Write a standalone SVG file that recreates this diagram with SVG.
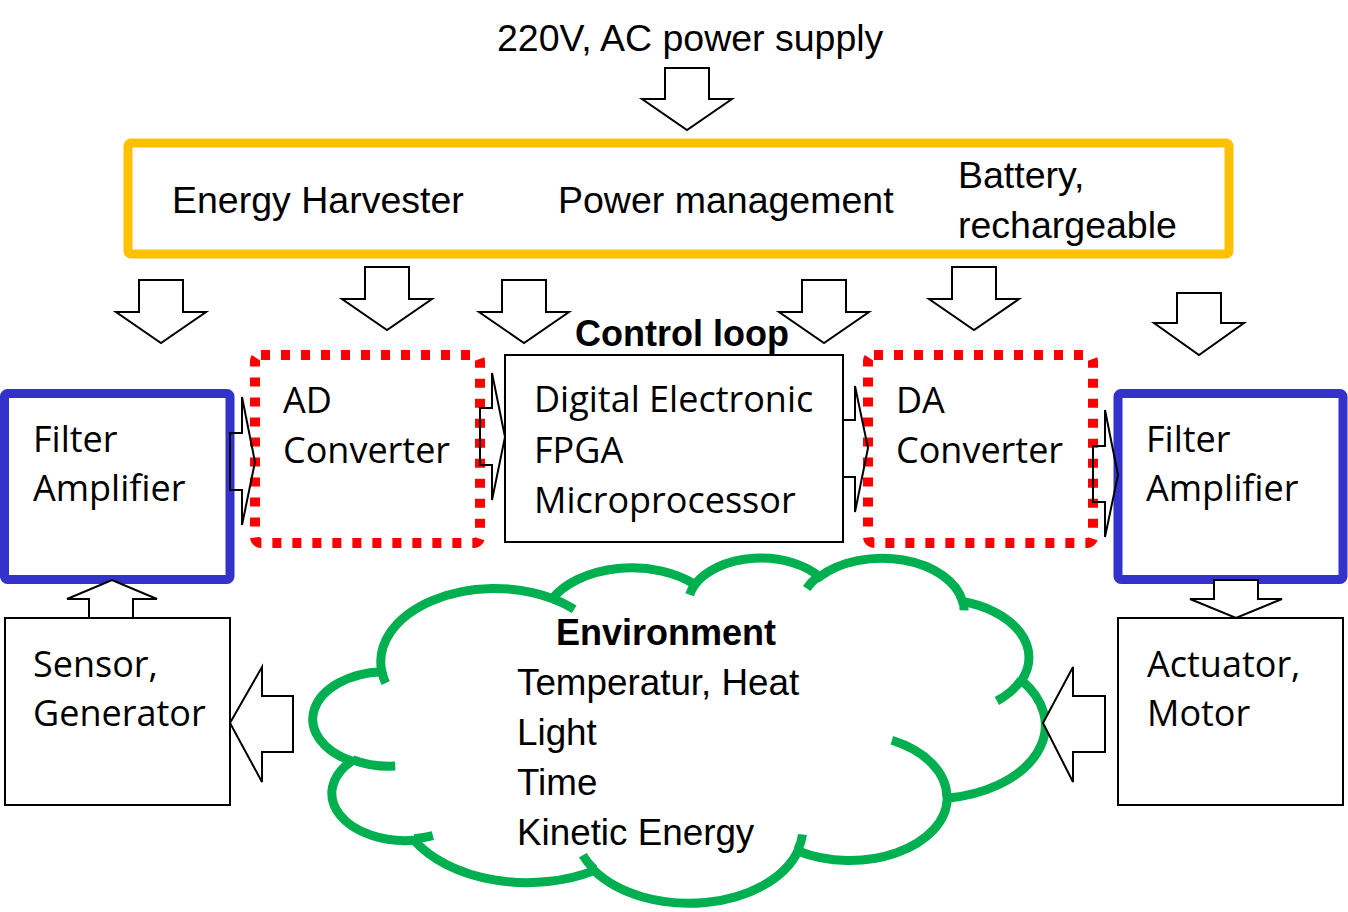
<svg xmlns="http://www.w3.org/2000/svg" width="1348" height="912" viewBox="0 0 1348 912">
<style>
.lbl{font-family:"Open Sans","Noto Sans","DejaVu Sans",sans-serif;font-size:36px;fill:#000}
.cal{font-family:"Liberation Sans",Arial,sans-serif;font-size:37.5px;fill:#000}
.env{font-family:"Liberation Sans",Arial,sans-serif;font-size:36.8px;fill:#000}
.calb{font-family:"Liberation Sans",Arial,sans-serif;font-size:36px;font-weight:bold;fill:#000}
.box{fill:#fff;stroke:#000;stroke-width:2}
.blue{fill:#fff;stroke:#3333CC;stroke-width:9}
.red{fill:#fff;stroke:#FF0000;stroke-width:10;stroke-dasharray:9 11}
.arr{fill:#fff;stroke:#000;stroke-width:2;stroke-linejoin:miter}
.arrn{fill:none;stroke:#000;stroke-width:2;stroke-linejoin:miter}
</style>
<rect width="1348" height="912" fill="#fff"/>

<g id="title">
<text class="cal" x="497" y="51">220V, AC power supply</text>
</g>

<g id="power">
<rect x="128" y="143" width="1101" height="111" rx="3" fill="#fff" stroke="#FFC000" stroke-width="9"/>
<text class="cal" x="172" y="213" font-size="37">Energy Harvester</text>
<text class="cal" x="558" y="213" font-size="38">Power management</text>
<text class="cal" x="958" y="188">Battery,</text>
<text class="cal" x="958" y="238">rechargeable</text>
</g>

<g id="control-loop-label">
<text class="calb" x="575" y="346">Control loop</text>
</g>

<g id="environment">
<g transform="translate(316,557) scale(0.016875,0.0079861)">
<path fill="#fff" stroke="#00B050" stroke-width="9" vector-effect="non-scaling-stroke" d="M3900,14370 A6753,9190 0 0 1 14005,5202 A5333,7267 0 0 1 22457,3432 A4365,5945 0 0 1 29833,2480 A4857,6595 0 0 1 38318,5575 A5333,7273 0 0 1 41818,15459 A6775,9220 0 0 1 37405,30204 A5785,7867 0 0 1 28557,36814 A6752,9215 0 0 1 16482,39267 A7720,10543 0 0 1 5807,35474 A4360,5918 0 0 1 2114,25554 A4345,5945 0 0 1 3900,14370 Z"/>
<path fill="none" stroke="#00B050" stroke-width="9" vector-effect="non-scaling-stroke" d="M4693,26177 A4345,5945 0 0 1 2160,25380 M6928,34899 A4360,5918 0 0 1 5820,35281 M16478,39090 A6752,9215 0 0 1 15809,37348 M28827,34751 A6752,9215 0 0 1 28560,36660 M34129,22954 A5785,7867 0 0 1 37381,30090 M41798,15354 A5333,7273 0 0 1 40350,18030 M38324,5426 A4857,6595 0 0 1 38401,6690 M29078,3952 A4857,6595 0 0 1 29820,2341 M22141,4720 A4365,5945 0 0 1 22500,3330 M14000,5192 A6753,9190 0 0 1 15300,6541 M4127,15789 A6753,9190 0 0 1 3900,14371"/>
</g>
<text class="calb" x="556" y="645">Environment</text>
<text class="env" x="517" y="695">Temperatur, Heat</text>
<text class="env" x="517" y="745">Light</text>
<text class="env" x="517" y="795">Time</text>
<text class="env" x="517" y="845">Kinetic Energy</text>
</g>

<g id="filter-left">
<rect class="blue" x="4.5" y="393.5" width="225.5" height="186" rx="3"/>
<text class="lbl" x="33" y="452">Filter</text>
<text class="lbl" x="33" y="501">Amplifier</text>
</g>

<g id="ad-converter">
<rect class="red" x="255" y="355" width="225" height="188" rx="6"/>
<text class="lbl" x="283" y="413">AD</text>
<text class="lbl" x="283" y="463">Converter</text>
</g>

<g id="digital">
<rect class="box" x="505" y="355" width="338" height="187"/>
<text class="lbl" x="534" y="412">Digital Electronic</text>
<text class="lbl" x="534" y="463">FPGA</text>
<text class="lbl" x="534" y="513">Microprocessor</text>
</g>

<g id="da-converter">
<rect class="red" x="868" y="355" width="225" height="188" rx="6"/>
<text class="lbl" x="896" y="413">DA</text>
<text class="lbl" x="896" y="463">Converter</text>
</g>

<g id="filter-right">
<rect class="blue" x="1118" y="393.5" width="225" height="186" rx="3"/>
<text class="lbl" x="1146" y="452">Filter</text>
<text class="lbl" x="1146" y="501">Amplifier</text>
</g>

<g id="sensor">
<rect class="box" x="5" y="618" width="225" height="187"/>
<text class="lbl" x="33" y="677">Sensor,</text>
<text class="lbl" x="33" y="726">Generator</text>
</g>

<g id="actuator">
<rect class="box" x="1118" y="618" width="225" height="187"/>
<text class="lbl" x="1147" y="677">Actuator,</text>
<text class="lbl" x="1147" y="726">Motor</text>
</g>

<g id="connectors">
<polygon class="arr" points="665,68 709,68 709,99 732,99 687,130 642,99 665,99"/>
<polygon class="arr" points="139,280 183,280 183,312 206,312 161,343 116,312 139,312"/>
<polygon class="arr" points="365,267 409,267 409,299 432,299 387,330 342,299 365,299"/>
<polygon class="arr" points="502,280 546,280 546,312 569,312 524,343 479,312 502,312"/>
<polygon class="arr" points="802,280 846,280 846,312 869,312 824,343 779,312 802,312"/>
<polygon class="arr" points="952,267 996,267 996,299 1019,299 974,330 929,299 952,299"/>
<polygon class="arr" points="1177,293 1221,293 1221,323 1244,323 1199,355 1154,323 1177,323"/>
<polygon class="arrn" points="230,433 242,433 242,397 255,462 242,525 242,490 230,490"/>
<polygon class="arrn" points="480,408 492,408 492,373 505,437 492,500 492,465 480,465"/>
<polygon class="arrn" points="843,420 855,420 855,386 868,448 855,512 855,477 843,477"/>
<polygon class="arrn" points="1093,446 1105,446 1105,410 1118,475 1105,537 1105,502 1093,502"/>
<polygon class="arr" points="89,618 89,599 67,599 112,580 157,599 133,599 133,618"/>
<polygon class="arr" points="1214,580 1258,580 1258,599 1282,599 1236,618 1190,599 1214,599"/>
<polygon class="arr" points="293,696 262,696 262,667 230,723 262,782 262,752 293,752"/>
<polygon class="arr" points="1105,696 1073,696 1073,667 1043,723 1073,782 1073,752 1105,752"/>
</g>
</svg>
